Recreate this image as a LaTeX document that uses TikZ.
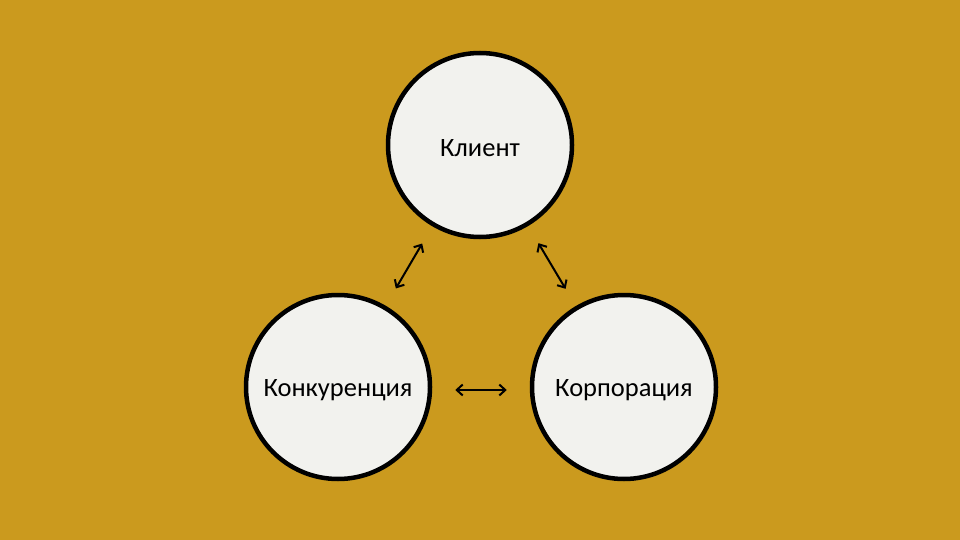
\documentclass[tikz,border=0pt]{standalone}
\usepackage{fontspec}
\setmainfont{Carlito}
\usetikzlibrary{arrows.meta}
\definecolor{bg}{HTML}{CB9A1E}
\definecolor{paper}{HTML}{F2F2EE}
\begin{document}
\begin{tikzpicture}[x=1pt,y=-1pt,
  bubble/.style={circle,draw=black,line width=4.5pt,fill=paper,minimum size=184pt,inner sep=0pt,
    label={[font=\fontsize{26.5}{30}\selectfont,yshift=-3.5pt]center:#1}},
  link/.style={line width=2pt,{Straight Barb[length=6pt,width=11pt]}-{Straight Barb[length=6pt,width=11pt]}}]
\fill[bg] (0,0) rectangle (960,540);
\useasboundingbox (0,0) rectangle (960,540);
\node[bubble=Клиент] (k) at (480,145) {};
\node[bubble=Конкуренция] (c) at (338,387) {};
\node[bubble=Корпорация] (p) at (624,387) {};
\draw[link,shorten <=20pt,shorten >=20pt] (k) -- (c);
\draw[link,shorten <=20pt,shorten >=20pt] (k) -- (p);
\draw[link,shorten <=23pt,shorten >=23pt] ([yshift=-3pt]c.east) -- ([yshift=-3pt]p.west);
\end{tikzpicture}
\end{document}
